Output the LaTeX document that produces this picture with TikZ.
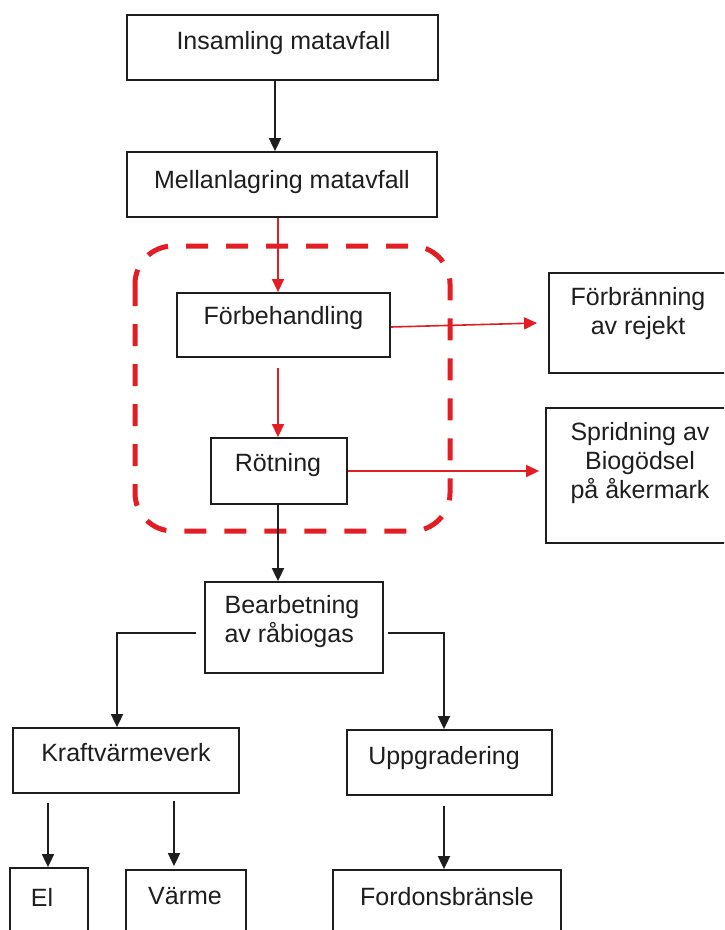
\documentclass[tikz,border=0pt]{standalone}
\usepackage{fontspec}
\setmainfont{Liberation Sans}
\usetikzlibrary{arrows.meta,calc}
\definecolor{dred}{RGB}{226,30,36}
\definecolor{ink}{RGB}{30,30,30}
\begin{document}
\begin{tikzpicture}[x=1pt,y=-1pt,
  box/.style 2 args={draw=ink,line width=1.8pt,rectangle,inner sep=0pt,
    minimum width=#1pt,minimum height=#2pt},
  txt/.style={font=\fontsize{25}{29}\selectfont,inner sep=0pt,align=center,text=ink},
  barr/.style={draw=ink,line width=1.8pt,-{Triangle[length=13pt,width=12pt]}},
  rarr/.style={draw=dred,line width=1.6pt,-{Triangle[length=13pt,width=12pt]}},
  grp/.style={draw=dred,line width=5pt,dash pattern=on 22pt off 18pt,rounded corners=38pt}]
\useasboundingbox (0,0) rectangle (724,930);
\clip (0,0) rectangle (724,930);
\fill[white] (0,0) rectangle (724,930);

% columns
\coordinate (colI) at (275,0);
\coordinate (colA) at (278,0);
\coordinate (colK) at (117,0);
\coordinate (colU) at (444,0);
\coordinate (colE) at (48,0);
\coordinate (colV) at (174,0);

% boxes
\node[box={311}{65}] (ins) at (282.5,47.5) {};
\node[box={310}{65}] (mel) at (282,184.5) {};
\node[box={213}{64}] (fob) at (283.5,325) {};
\node[box={136}{66}] (rot) at (279,471) {};
\node[box={179}{100}] (fbr) at (638.5,323) {};
\node[box={188}{135}] (spr) at (640,475.5) {};
\node[box={178}{91}] (bea) at (294,627.5) {};
\node[box={226}{65}] (kvv) at (126,760.5) {};
\node[box={205}{65}] (upg) at (449.5,762.5) {};
\node[box={78}{92}] (el) at (49,914) {};
\node[box={120}{90}] (vrm) at (186,915) {};
\node[box={228}{90}] (fdb) at (447,915) {};

% texts
\node[txt] (t-ins) at (283.5,43) {Insamling matavfall};
\node[txt] (t-mel) at (282,182) {Mellanlagring matavfall};
\node[txt] (t-fob) at (283.5,318) {Förbehandling};
\node[txt] (t-rot) at (278,465) {Rötning};
\node[txt] (t-fbr) at (638,314) {Förbränning\\av rejekt};
\node[txt] (t-spr) at (640,463.5) {Spridning av\\Biogödsel\\på åkermark};
\node[txt,align=left] (t-bea) at (292,622) {Bearbetning\\av råbiogas};
\node[txt] (t-kvv) at (126,753) {Kraftvärmeverk};
\node[txt] (t-upg) at (444,758) {Uppgradering};
\node[txt] (t-el) at (42,897) {El};
\node[txt] (t-vrm) at (185,896) {Värme};
\node[txt] (t-fdb) at (447,897) {Fordonsbränsle};

% dashed group
\draw[grp] (135,246) rectangle (450,531);

% black connectors
\draw[barr] (ins.south -| colI) -- (mel.north -| colI);
\draw[barr] (rot.south -| colA) -- (bea.north -| colA);
\draw[barr] ($(bea.west)+(-8,5.5)$) -| (kvv.north -| colK);
\draw[barr] ($(bea.east)+(4,5.5)$) -| (upg.north -| colU);
\draw[barr] ($(kvv.south -| colE)+(0,9)$) -- (el.north -| colE);
\draw[barr] ($(kvv.south -| colV)+(0,7)$) -- ($(vrm.north -| colV)+(0,-3)$);
\draw[barr] ($(upg.south -| colU)+(0,10)$) -- (fdb.north -| colU);

% red connectors
\draw[rarr] (mel.south -| colA) -- (fob.north -| colA);
\draw[rarr] ($(fob.south -| colA)+(0,10)$) -- (rot.north -| colA);
\draw[rarr] ($(fob.east)+(0,2)$) -- ($(fbr.west)+(-11,0)$);
\draw[rarr] (rot.east) -- ($(rot.east -| spr.west)+(-6,0)$);
\end{tikzpicture}
\end{document}
